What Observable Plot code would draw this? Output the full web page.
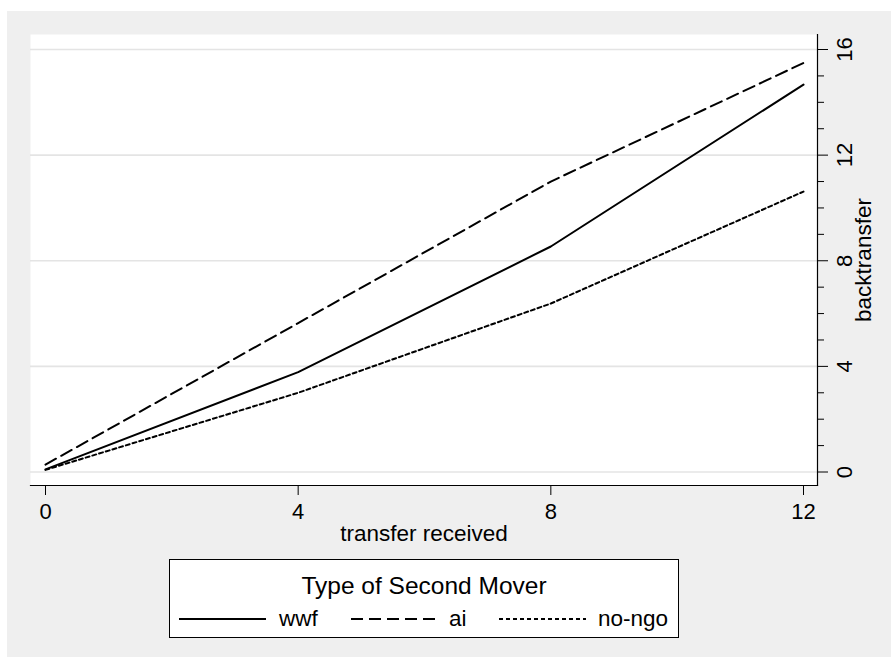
<!DOCTYPE html>
<html><head><meta charset="utf-8">
<script src="https://cdn.jsdelivr.net/npm/d3@7"></script>
<script src="https://cdn.jsdelivr.net/npm/@observablehq/plot@0.6"></script>
<style>
body{margin:0;background:#fff;font-family:"Liberation Sans",Arial,sans-serif;}
#bg{position:absolute;left:7px;top:11px;width:884px;height:646px;background:#efefef;overflow:hidden;}
#chart{position:absolute;left:0;top:0;}
#legend{position:absolute;left:162px;top:548px;width:508px;height:77px;border:1px solid #000;background:#fff;color:#000;}
#legend .title{position:absolute;left:0;width:100%;top:12px;text-align:center;font-size:24.5px;line-height:28px;}
#legend .item{position:absolute;top:45px;font-size:22.5px;line-height:28px;}
#legend svg{position:absolute;top:46px;}
</style>
</head><body>
<div id="bg"><div id="chart"></div><div id="legend"></div></div>
<script>
const transfer = [0, 4, 8, 12];
const wwf = [0.10, 3.78, 8.54, 14.67];
const ai = [0.28, 5.64, 11.0, 15.49];
const noNgo = [0.08, 3.0, 6.38, 10.62];
const seriesNames = ["wwf", "ai", "no-ngo"];
const legendTitle = "Type of Second Mover";
const xTicks = [0, 4, 8, 12];
const yTicks = [0, 4, 8, 12, 16];
const yMinor = [1, 2, 3, 5, 6, 7, 9, 10, 11, 13, 14, 15];
const dashes = {"wwf": null, "ai": "12,6", "no-ngo": "4,3"};

const data = [];
[wwf, ai, noNgo].forEach((vals, i) => vals.forEach((v, j) => data.push({series: seriesNames[i], x: transfer[j], y: v})));

const plot = Plot.plot({
  width: 884, height: 540,
  marginLeft: 23, marginRight: 74, marginTop: 23, marginBottom: 66,
  style: {background: "transparent", fontFamily: "Liberation Sans, Arial, sans-serif", fontSize: "21px", color: "#000"},
  x: {domain: [0, 12], range: [38, 796]},
  y: {domain: [0, 16], range: [460.5, 38]},
  marks: [
    Plot.frame({fill: "#fff", stroke: null}),
    Plot.ruleY(yTicks, {stroke: "#e4e4e4", strokeWidth: 1.6}),
    ...seriesNames.map(s => Plot.line(data.filter(d => d.series === s), {x: "x", y: "y", stroke: "#000", strokeWidth: 2, strokeDasharray: dashes[s]})),
    Plot.frame({anchor: "right", stroke: "#000", strokeWidth: 1.2}),
    Plot.frame({anchor: "bottom", stroke: "#000", strokeWidth: 1.2}),
    Plot.axisX({ticks: xTicks, tickSize: 10, tickPadding: 8, fontSize: 22, label: null}),
    Plot.axisX({ticks: [], tickSize: 0, label: "transfer received", labelArrow: "none", labelAnchor: "center", labelOffset: 55, fontSize: 22.5}),
    Plot.axisY({anchor: "right", ticks: yTicks, tickSize: 10, tickPadding: 24, tickRotate: -90, fontSize: 22, label: null}),
    Plot.axisY({anchor: "right", ticks: yMinor, tickSize: 6, tickFormat: () => "", label: null}),
    Plot.axisY({anchor: "right", ticks: [], tickSize: 0, label: "backtransfer", labelArrow: "none", labelAnchor: "center", labelOffset: 53, fontSize: 22.5})
  ]
});
document.getElementById("chart").appendChild(plot);

const lg = document.getElementById("legend");
lg.innerHTML = `<div class="title">${legendTitle}</div>`;
const pos = [[9, 109], [181, 279], [329, 428]];
seriesNames.forEach((s, i) => {
  const [sx, tx] = pos[i];
  const svg = d3.create("svg").attr("width", 87).attr("height", 26).style("left", sx + "px");
  svg.append("line").attr("x1", 0).attr("x2", 87).attr("y1", 13).attr("y2", 13)
    .attr("stroke", "#000").attr("stroke-width", 2).attr("stroke-dasharray", dashes[s]);
  lg.appendChild(svg.node());
  const t = document.createElement("div");
  t.className = "item"; t.style.left = tx + "px"; t.textContent = s;
  lg.appendChild(t);
});
</script>
</body></html>
